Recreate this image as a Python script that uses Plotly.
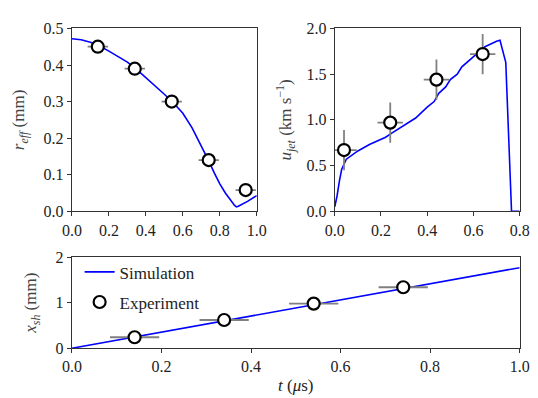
import plotly.graph_objects as go

# r_eff panel
r_sim_t = [0.0, 0.05, 0.1, 0.15, 0.2, 0.25, 0.3, 0.35, 0.4, 0.45, 0.5, 0.55, 0.6, 0.65, 0.7, 0.74,
           0.77, 0.8, 0.83, 0.86, 0.88, 0.89, 0.9, 0.95, 1.0]
r_sim = [0.472, 0.469, 0.462, 0.452, 0.438, 0.424, 0.408, 0.388, 0.366, 0.344, 0.320, 0.296, 0.268,
         0.228, 0.180, 0.138, 0.105, 0.075, 0.050, 0.028, 0.016, 0.012, 0.014, 0.027, 0.043]
r_exp_t = [0.14, 0.34, 0.54, 0.74, 0.94]
r_exp = [0.45, 0.39, 0.30, 0.14, 0.058]
r_exp_terr = [0.055, 0.055, 0.055, 0.055, 0.055]

# u_jet panel
u_sim_t = [0.0, 0.01, 0.02, 0.03, 0.05, 0.08, 0.1, 0.15, 0.2, 0.22, 0.25, 0.3, 0.35, 0.4, 0.43, 0.45,
           0.48, 0.5, 0.53, 0.55, 0.6, 0.65, 0.7, 0.715, 0.74, 0.765, 0.8]
u_sim = [0.05, 0.17, 0.33, 0.46, 0.57, 0.62, 0.66, 0.73, 0.79, 0.81, 0.86, 0.94, 1.02, 1.14, 1.20, 1.29,
         1.36, 1.44, 1.50, 1.58, 1.69, 1.80, 1.86, 1.87, 1.63, 0.0, 0.0]
u_exp_t = [0.04, 0.24, 0.44, 0.64]
u_exp = [0.67, 0.97, 1.44, 1.72]
u_exp_terr = [0.055, 0.055, 0.055, 0.055]
u_exp_uerr = [0.22, 0.22, 0.22, 0.22]

# x_sh panel
x_sim_t = [0.0, 0.25, 0.5, 0.75, 1.0]
x_sim = [0.0, 0.443, 0.885, 1.328, 1.77]
x_exp_t = [0.14, 0.34, 0.54, 0.74]
x_exp = [0.24, 0.62, 0.98, 1.34]
x_exp_terr = [0.055, 0.055, 0.055, 0.055]

W, H = 538, 398
FONT = "Liberation Serif"
BLUE = "#0000ff"
GREY = "#808080"


def px(a, b):
    return [a / W, b / W]


def py(top, bottom):
    return [1 - bottom / H, 1 - top / H]


fig = go.Figure()

marker = dict(size=12, color="white", line=dict(color="black", width=2.2))
ebar = dict(type="data", color=GREY, thickness=1.8, width=0)

# top-left
fig.add_trace(go.Scatter(x=r_sim_t, y=r_sim, mode="lines", line=dict(color=BLUE, width=1.6),
                         xaxis="x", yaxis="y", showlegend=False))
fig.add_trace(go.Scatter(x=r_exp_t, y=r_exp, mode="markers", marker=marker,
                         error_x=dict(array=r_exp_terr, **ebar),
                         xaxis="x", yaxis="y", showlegend=False, cliponaxis=False))
# top-right
fig.add_trace(go.Scatter(x=u_sim_t, y=u_sim, mode="lines", line=dict(color=BLUE, width=1.6),
                         xaxis="x2", yaxis="y2", showlegend=False))
fig.add_trace(go.Scatter(x=u_exp_t, y=u_exp, mode="markers", marker=marker,
                         error_x=dict(array=u_exp_terr, **ebar),
                         error_y=dict(array=u_exp_uerr, **ebar),
                         xaxis="x2", yaxis="y2", showlegend=False))
# bottom
fig.add_trace(go.Scatter(x=x_sim_t, y=x_sim, mode="lines", line=dict(color=BLUE, width=1.6),
                         xaxis="x3", yaxis="y3", name="Simulation", legendgroup="sim"))
fig.add_trace(go.Scatter(x=x_exp_t, y=x_exp, mode="markers", marker=marker,
                         error_x=dict(array=x_exp_terr, **ebar),
                         xaxis="x3", yaxis="y3", name="Experiment", legendgroup="exp"))

axis_style = dict(showline=True, linecolor="#333333", linewidth=1.2, mirror=True, ticks="outside",
                  ticklen=4, tickwidth=1, tickcolor="#333333", showgrid=False, zeroline=False,
                  tickfont=dict(family=FONT, size=16, color="#222222"))
title_font = dict(family=FONT, size=17, color="#444444")

fig.update_layout(
    width=W, height=H,
    margin=dict(l=0, r=0, t=0, b=0),
    paper_bgcolor="white", plot_bgcolor="white",
    font=dict(family=FONT, size=16, color="#222222"),
    xaxis=dict(domain=px(56, 248), range=[0, 1.0], tickvals=[0, 0.2, 0.4, 0.6, 0.8, 1.0],
               tickformat=".1f", anchor="y", **axis_style),
    yaxis=dict(domain=py(13, 204), range=[0, 0.5], tickvals=[0, 0.1, 0.2, 0.3, 0.4, 0.5],
               tickformat=".1f", anchor="x",
               title=dict(text="<i>r</i><sub><i>eff</i></sub> (mm)", standoff=14,
                          font=title_font), **axis_style),
    xaxis2=dict(domain=px(329, 521), range=[0, 0.8], tickvals=[0, 0.2, 0.4, 0.6, 0.8],
                tickformat=".1f", anchor="y2", **axis_style),
    yaxis2=dict(domain=py(13, 204), range=[0, 2.0], tickvals=[0, 0.5, 1.0, 1.5, 2.0],
                tickformat=".1f", anchor="x2",
                title=dict(text="<i>u</i><sub><i>jet</i></sub> (km s<sup>−1</sup>)", standoff=10,
                           font=title_font), **axis_style),
    xaxis3=dict(domain=px(56, 521), range=[0, 1.0], tickvals=[0, 0.2, 0.4, 0.6, 0.8, 1.0],
                tickformat=".1f", anchor="y3",
                title=dict(text="<i>t</i> (<i>μ</i>s)", standoff=4,
                           font=dict(family=FONT, size=17, color="#222222")), **axis_style),
    yaxis3=dict(domain=py(252, 347), range=[0, 2], tickvals=[0, 1, 2], anchor="x3",
                title=dict(text="<i>x</i><sub><i>sh</i></sub> (mm)", standoff=14,
                           font=title_font), **axis_style),
    legend=dict(x=64 / W, y=1 - 249 / H, xanchor="left", yanchor="top", bgcolor="rgba(0,0,0,0)",
                font=dict(family=FONT, size=17, color="#222222"), tracegroupgap=5),
)

fig.write_html("out.html")
